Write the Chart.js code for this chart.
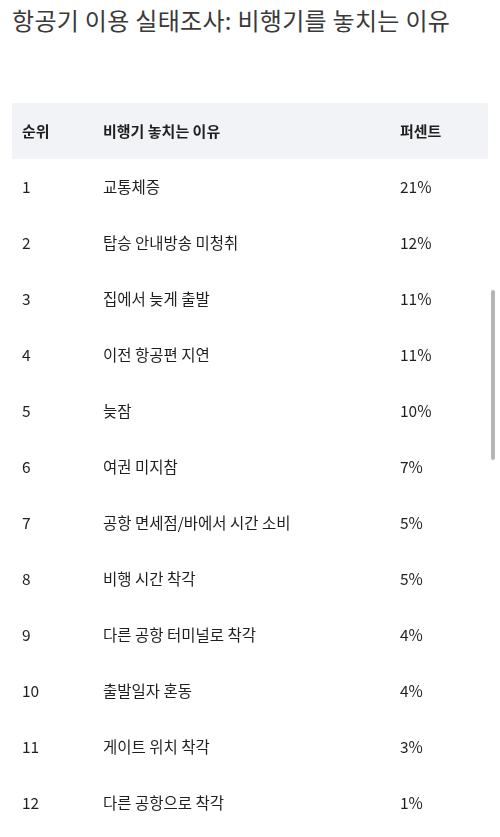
<!DOCTYPE html>
<html>
<head>
<meta charset="utf-8">
<script src="https://cdn.jsdelivr.net/npm/chart.js@4"></script>
<style>
  body { margin: 0; background: #fff; width: 500px; height: 837px; overflow: hidden; position: relative;
         font-family: "Noto Sans CJK KR", "Noto Sans", sans-serif; }
  h1 { position: absolute; left: 12px; top: 2px; margin: 0; width: 472px; font-size: 24px; font-weight: 400;
       line-height: 36px; color: #3a3a3a; letter-spacing: 0.3px; }
  #wrap { position: absolute; left: 0; top: 103px; width: 500px; height: 728px; }
  #scroll { position: absolute; left: 491px; top: 290px; width: 4px; height: 170px; background: #b5b5b5; border-radius: 2px; }
</style>
</head>
<body>
<h1>항공기 이용 실태조사: 비행기를 놓치는 이유</h1>
<div id="wrap"><canvas id="tbl"></canvas></div>
<div id="scroll"></div>
<script>
// table content
const headers = ['순위', '비행기 놓치는 이유', '퍼센트'];
const ranks = ['1', '2', '3', '4', '5', '6', '7', '8', '9', '10', '11', '12'];
const reasons = ['교통체증', '탑승 안내방송 미청취', '집에서 늦게 출발', '이전 항공편 지연', '늦잠', '여권 미지참',
  '공항 면세점/바에서 시간 소비', '비행 시간 착각', '다른 공항 터미널로 착각', '출발일자 혼동', '게이트 위치 착각', '다른 공항으로 착각'];
const percents = [21, 12, 11, 11, 10, 7, 5, 5, 4, 4, 3, 1];

const rowLabels = ['header'].concat(ranks);
const colX = [22, 103, 400];

const tablePlugin = {
  id: 'tablePlugin',
  beforeDatasetsDraw(chart) {
    const ctx = chart.ctx;
    const y = chart.scales.y;
    const step = y.getPixelForValue(1) - y.getPixelForValue(0);
    ctx.save();
    ctx.fillStyle = '#f2f3f6';
    ctx.fillRect(12, y.getPixelForValue(0) - step / 2, 476, step);
    ctx.textBaseline = 'middle';
    ctx.fillStyle = '#1f1f1f';
    ctx.font = '600 15px "Noto Sans CJK KR"';
    headers.forEach((h, i) => ctx.fillText(h, colX[i], y.getPixelForValue(0)));
    ctx.font = '400 15.5px "Noto Sans CJK KR"';
    ranks.forEach((r, i) => {
      const py = y.getPixelForValue(i + 1);
      ctx.fillText(r, colX[0], py);
      ctx.fillText(reasons[i], colX[1], py);
      ctx.fillText(percents[i] + '%', colX[2], py);
    });
    ctx.restore();
  }
};

new Chart(document.getElementById('tbl'), {
  type: 'bar',
  data: {
    labels: rowLabels,
    datasets: [{ data: [null].concat(percents), backgroundColor: 'rgba(0,0,0,0)' }]
  },
  options: {
    indexAxis: 'y',
    responsive: true,
    maintainAspectRatio: false,
    animation: false,
    layout: { padding: 0 },
    plugins: { legend: { display: false }, tooltip: { enabled: false } },
    scales: {
      x: { display: false, min: 0, max: 100 },
      y: { display: false }
    }
  },
  plugins: [tablePlugin]
});
</script>
</body>
</html>
